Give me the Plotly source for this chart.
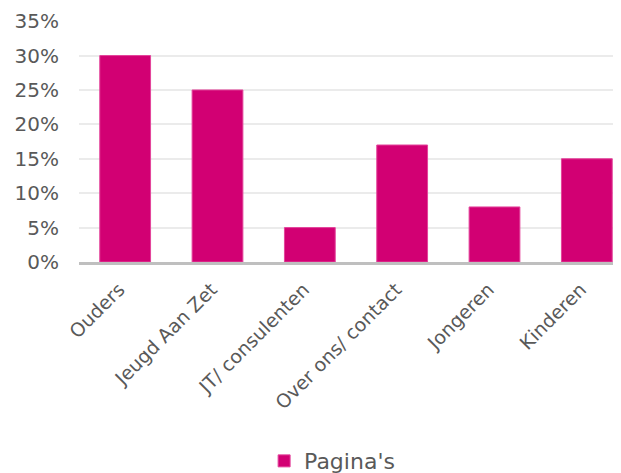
import plotly.graph_objects as go

categories = ["Ouders", "Jeugd Aan Zet", "JT/ consulenten", "Over ons/ contact", "Jongeren", "Kinderen"]
values = [0.30, 0.25, 0.05, 0.17, 0.08, 0.15]
series_name = "Pagina's"
y_ticks = [0, 0.05, 0.10, 0.15, 0.20, 0.25, 0.30, 0.35]
y_tick_labels = ["0%", "5%", "10%", "15%", "20%", "25%", "30%", "35%"]

fig = go.Figure()
fig.add_trace(go.Bar(
    x=list(range(len(categories))),
    y=values,
    name=series_name,
    marker=dict(color="#D20073", line=dict(color="#E3449B", width=1)),
    width=0.55,
    showlegend=True,
))

# The page shows the figure with an 8px body offset, so sizes are compensated.
fig.update_layout(
    width=613, height=465,
    margin=dict(l=71, r=0, t=13, b=211, autoexpand=False),
    paper_bgcolor="white", plot_bgcolor="white",
    font=dict(family="DejaVu Sans", color="#595959"),
    showlegend=True,
    legend=dict(orientation="h", x=0.467, xanchor="center", y=-0.826, yanchor="middle",
                font=dict(family="DejaVu Sans", size=22, color="#595959")),
    xaxis=dict(
        range=[-0.5, 5.37],
        tickmode="array",
        tickvals=list(range(len(categories))),
        ticktext=categories,
        tickangle=-45,
        tickfont=dict(size=19, color="#595959"),
        showgrid=False,
        showline=True, linecolor="#BFBFBF", linewidth=3,
        ticks="",
        ticklabelstandoff=6,
        ticklabelshift=-6,
        zeroline=False,
        automargin=False,
    ),
    yaxis=dict(
        range=[0, 0.3502],
        tickmode="array",
        tickvals=y_ticks,
        ticktext=y_tick_labels,
        tickfont=dict(size=20, color="#595959"),
        showgrid=True, gridcolor="#EBEBEB", gridwidth=2,
        zeroline=False,
        showline=False,
        ticks="",
        ticklabelstandoff=19,
        automargin=False,
    ),
)

fig.write_html("out.html")
